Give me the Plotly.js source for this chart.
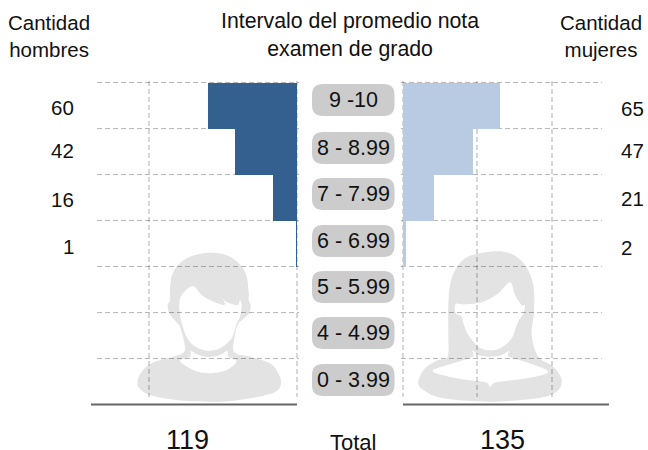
<!DOCTYPE html>
<html>
<head>
<meta charset="utf-8">
<script src="https://cdn.plot.ly/plotly-3.0.1.min.js"></script>
<style>html,body{margin:0;padding:0;background:#fff}#c{width:648px;height:450px}</style>
</head>
<body>
<div id="c"></div>
<script>
const categories = ['9 -10','8 - 8.99','7 - 7.99','6 - 6.99','5 - 5.99','4 - 4.99','0 - 3.99'];
const menValues = [60,42,16,1,0,0,0];
const womenValues = [65,47,21,2,0,0,0];
const menLabels = ['60','42','16','1'];
const womenLabels = ['65','47','21','2'];
const menTotal = '119';
const womenTotal = '135';
const totalLabel = 'Total';
const headerMen = 'Cantidad<br>hombres';
const headerWomen = 'Cantidad<br>mujeres';
const headerMiddle = 'Intervalo del promedio nota<br>examen de grado';

const W=648,H=450,T=81,B=53,PH=H-T-B;
const X=p=>p/W, Y=p=>(H-B-p)/PH;
const FONT='"Liberation Sans", Arial, sans-serif';
const pillY=[100,148,194,241,287,333,380];
const menLabelY=[107,150,199,246];
const womenLabelY=[108,150,198,247];

const rows=categories.map((c,i)=>i);

function smooth(pts,ox,oy){
  const P=pts.map(p=>[ox+p[0]/3,oy+p[1]/3]), n=P.length;
  let d='M'+X(P[0][0])+','+Y(P[0][1]);
  for(let i=0;i<n;i++){
    const p0=P[(i-1+n)%n],p1=P[i],p2=P[(i+1)%n],p3=P[(i+2)%n];
    const c1=[p1[0]+(p2[0]-p0[0])/6,p1[1]+(p2[1]-p0[1])/6];
    const c2=[p2[0]-(p3[0]-p1[0])/6,p2[1]-(p3[1]-p1[1])/6];
    d+='C'+X(c1[0])+','+Y(c1[1])+' '+X(c2[0])+','+Y(c2[1])+' '+X(p2[0])+','+Y(p2[1]);
  }
  return d+'Z';
}
function pill(x0,x1,y0,y1,r){
  const q=(a,b)=>X(a)+','+Y(b);
  return 'M'+q(x0+r,y0)+'L'+q(x1-r,y0)+'Q'+q(x1,y0)+' '+q(x1,y0+r)+'L'+q(x1,y1-r)+'Q'+q(x1,y1)+' '+q(x1-r,y1)+
    'L'+q(x0+r,y1)+'Q'+q(x0,y1)+' '+q(x0,y1-r)+'L'+q(x0,y0+r)+'Q'+q(x0,y0)+' '+q(x0+r,y0)+'Z';
}
const maleOuter=[[237,-7],[300,5],[345,50],[356,110],[356,135],[362,150],[358,175],[340,192],[324,207],[315,240],[312,290],[360,305],[420,325],[445,355],[453,385],[440,408],[400,422],[310,437],[237,440],[140,435],[60,420],[28,400],[22,380],[35,350],[70,322],[130,305],[163,290],[162,260],[150,215],[138,200],[118,175],[113,150],[120,135],[120,100],[130,50],[170,10]];
const maleFace=[[188,93],[215,120],[250,140],[285,148],[263,108],[285,138],[322,150],[330,135],[335,150],[330,185],[320,205],[305,250],[270,280],[237,287],[205,280],[175,255],[155,205],[150,175],[148,150],[155,120]];
const maleCollar=[[183,288],[205,300],[237,306],[270,300],[292,288],[295,305],[320,318],[290,345],[237,355],[190,345],[150,318],[180,305]];
const femaleOuter=[[240,20],[300,25],[345,60],[370,120],[372,200],[365,270],[385,335],[430,365],[455,405],[440,440],[380,460],[240,470],[100,460],[40,435],[25,410],[45,370],[85,345],[113,335],[115,260],[115,180],[125,100],[165,40]];
const femaleFace=[[165,178],[220,170],[265,145],[300,112],[315,150],[335,180],[345,180],[340,205],[322,235],[305,280],[270,310],[238,316],[205,305],[175,270],[160,235],[155,215],[137,205],[137,177]];
const femaleCollar=[[187,316],[205,330],[240,335],[275,330],[297,318],[297,335],[345,350],[415,380],[350,400],[260,412],[240,425],[225,412],[140,400],[68,378],[130,355],[187,335]];

const shapes=[
 {type:'path',xref:'paper',yref:'paper',layer:'below',fillrule:'evenodd',fillcolor:'#e3e3e3',line:{width:0},
  path:smooth(maleOuter,130,255)+smooth(maleFace,130,255)+smooth(maleCollar,130,255)},
 {type:'path',xref:'paper',yref:'paper',layer:'below',fillrule:'evenodd',fillcolor:'#e3e3e3',line:{width:0},
  path:smooth(femaleOuter,410,245)+smooth(femaleFace,410,245)+smooth(femaleCollar,410,245)},
 {type:'line',xref:'paper',yref:'paper',x0:X(91),x1:X(297),y0:Y(404.5),y1:Y(404.5),line:{color:'#666666',width:2}},
 {type:'line',xref:'paper',yref:'paper',x0:X(403),x1:X(609),y0:Y(404.5),y1:Y(404.5),line:{color:'#666666',width:2}}
];
pillY.forEach(y=>shapes.push({type:'path',xref:'paper',yref:'paper',layer:'above',fillcolor:'#cccccc',line:{width:0},path:pill(312,394.5,y-16,y+16,11)}));

function note(text,px,py,size,anchor){
  return {text:text,xref:'paper',yref:'paper',x:X(px),y:Y(py),xanchor:anchor||'center',yanchor:'middle',showarrow:false,
    font:{family:FONT,size:size,color:'#111111'},align:'center'};
}
const annotations=[
 note(headerMen,49,36,20.5),
 note(headerMiddle,350,35.5,21.3),
 note(headerWomen,601,36,20.5),
 note(menTotal,187,440,27),
 note(totalLabel,353,442,22),
 note(womenTotal,502,440,27)
];
categories.forEach((c,i)=>annotations.push(note(c,353,pillY[i],21.5)));
menLabels.forEach((t,i)=>annotations.push(note(t,76,menLabelY[i],20.5,'right')));
womenLabels.forEach((t,i)=>annotations.push(note(t,619,womenLabelY[i],20.5,'left')));

const pxPerUnit=200/135;
const gridCommon={griddash:'5px,3px',showgrid:true,zeroline:false,showline:false,showticklabels:false,ticks:''};
const xGrid=Object.assign({},gridCommon,{gridcolor:'rgba(0,0,0,0.16)',gridwidth:2});
const yGrid=Object.assign({},gridCommon,{gridcolor:'rgba(0,0,0,0.28)',gridwidth:1,range:[(397-83)/46-0.5,-0.5-2/46],tick0:-0.512,dtick:1,tickmode:'linear'});
const layout={
 width:W,height:H,margin:{l:0,r:0,t:T,b:B,pad:0},paper_bgcolor:'rgba(0,0,0,0)',plot_bgcolor:'rgba(0,0,0,0)',
 showlegend:false,bargap:0,
 xaxis:Object.assign({},xGrid,{domain:[X(97),X(299)],range:[135,-2/pxPerUnit],tick0:0,dtick:100,anchor:'y'}),
 yaxis:Object.assign({},yGrid,{anchor:'x'}),
 xaxis2:Object.assign({},xGrid,{domain:[X(401),X(602)],range:[-2/pxPerUnit,134],tick0:0,dtick:50,anchor:'y2'}),
 yaxis2:Object.assign({},yGrid,{anchor:'x2'}),
 shapes:shapes,annotations:annotations
};
const traces=[
 {type:'bar',orientation:'h',x:menValues,y:rows,xaxis:'x',yaxis:'y',marker:{color:'#34608f',line:{width:0}},width:1,hoverinfo:'skip'},
 {type:'bar',orientation:'h',x:womenValues,y:rows,xaxis:'x2',yaxis:'y2',marker:{color:'#b8cbe3',line:{width:0}},width:1,hoverinfo:'skip'}
];
Plotly.newPlot('c',traces,layout,{displayModeBar:false,staticPlot:true});
</script>
</body>
</html>
